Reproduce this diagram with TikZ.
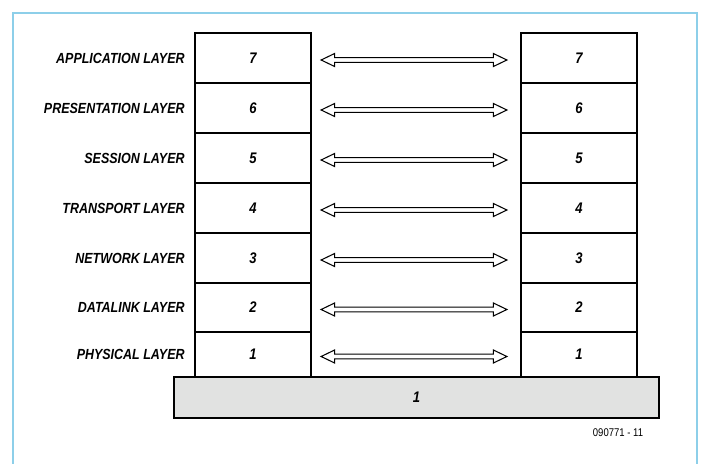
\documentclass[tikz,border=0pt]{standalone}
\usepackage{fontspec}
\setmainfont{Liberation Sans}
\newfontfamily\condf[FakeStretch=0.85]{Liberation Sans}
\usetikzlibrary{calc}
\definecolor{framec}{RGB}{141,207,233}
\definecolor{barc}{RGB}{225,226,225}
\begin{document}
\begin{tikzpicture}[x=0.75pt,y=-0.75pt,
  cell/.style={draw, line width=1.7pt, minimum width=87pt, inner sep=0pt,
    font=\condf\bfseries\itshape\fontsize{11.5}{13}\selectfont},
  lab/.style={inner sep=0pt, anchor=east,
    font=\condf\bfseries\itshape\fontsize{11}{13}\selectfont},
  barbox/.style={draw, line width=1.7pt, fill=barc, minimum width=363.75pt,
    minimum height=30.75pt, inner sep=0pt,
    font=\condf\bfseries\itshape\fontsize{11.5}{13}\selectfont},
  codelab/.style={inner sep=0pt, font=\condf\fontsize{8.4}{10}\selectfont},
  dbl/.style={draw, line width=0.8pt, fill=white, line join=miter}
]
\useasboundingbox (0,0) rectangle (701,464);
\draw[framec, line width=1.5pt] (13,464) -- (13,13) -- (697,13) -- (697,464);

\foreach \i/\y/\h/\t in {7/58/50/APPLICATION LAYER,
                         6/108/50/PRESENTATION LAYER,
                         5/158/50/SESSION LAYER,
                         4/208/50/TRANSPORT LAYER,
                         3/258/50/NETWORK LAYER,
                         2/307.5/49/DATALINK LAYER,
                         1/354.5/45/PHYSICAL LAYER}{
  \node[cell, minimum height=\h*0.75pt] (L\i) at (253,\y) {\i};
  \node[cell, minimum height=\h*0.75pt] (R\i) at (579,\y) {\i};
  \node[lab] (T\i) at ($(L\i.west)+(-9,0)$) {\t};
  \coordinate (a\i) at ($(L\i.east)+(9,2)$);
  \coordinate (b\i) at ($(R\i.west)+(-13,2)$);
  \draw[dbl] (a\i) -- ($(a\i)+(13.5,-6.5)$) -- ($(a\i)+(13.5,-2.3)$)
    -- ($(b\i)+(-13.5,-2.3)$) -- ($(b\i)+(-13.5,-6.5)$) -- (b\i)
    -- ($(b\i)+(-13.5,6.5)$) -- ($(b\i)+(-13.5,2.3)$)
    -- ($(a\i)+(13.5,2.3)$) -- ($(a\i)+(13.5,6.5)$) -- cycle;
}
\node[barbox] (B) at (416.5,397.5) {1};
\node[codelab] (C) at (618,433) {090771 - 11};
\end{tikzpicture}
\end{document}
